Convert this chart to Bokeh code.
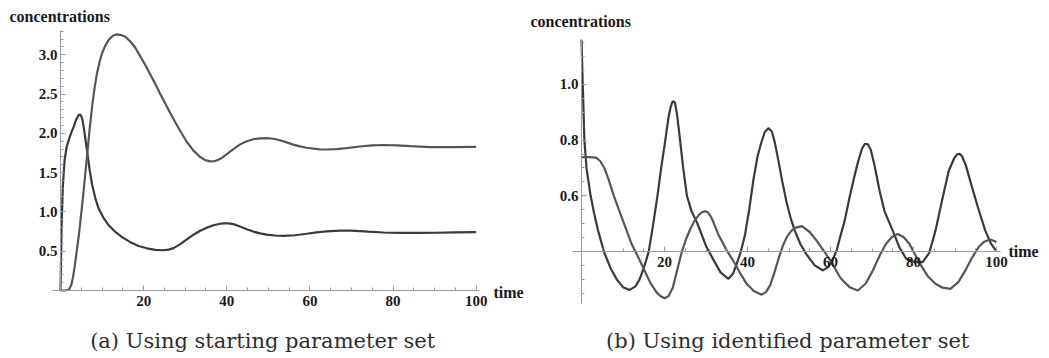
from bokeh.plotting import figure
from bokeh.models import Range1d, FixedTicker, PrintfTickFormatter, Label
from bokeh.layouts import row
from bokeh.embed import file_html
from bokeh.resources import INLINE

# ---------------- data: panel (a) starting parameter set ----------------
A_T1 = [0, 0.25, 0.56, 1, 1.5, 2, 2.6, 3.2, 3.8, 4.4,
        4.7, 5.0, 5.3, 5.8, 6.4, 7, 7.6, 8.4, 9.2, 10.4,
        11.6, 13.2, 14.8, 16.8, 18.8, 20.8, 22.8, 24.5, 26, 27.2,
        28.8, 30.4, 32, 33.6, 35.2, 36.8, 38.4, 39.4, 40.4, 41.6,
        43.2, 44.8, 46.4, 48, 49.6, 51.6, 53.6, 56.4, 59.2, 61.6,
        64, 67.2, 69.8, 72, 74, 77.8, 81.8, 85.8, 90, 95,
        100]
A_X = [0, 0.8, 1.32, 1.67, 1.83, 1.92, 2.01, 2.09, 2.18, 2.235,
       2.24, 2.22, 2.17, 2.0, 1.77, 1.54, 1.35, 1.17, 1.04, 0.92,
       0.83, 0.745, 0.68, 0.615, 0.567, 0.537, 0.518, 0.512, 0.52, 0.54,
       0.59, 0.65, 0.71, 0.76, 0.80, 0.83, 0.85, 0.855, 0.855, 0.845,
       0.815, 0.78, 0.75, 0.727, 0.712, 0.70, 0.695, 0.703, 0.722, 0.74,
       0.753, 0.762, 0.762, 0.757, 0.75, 0.738, 0.733, 0.733, 0.735, 0.739,
       0.742]
A_T2 = [0, 1, 2, 2.6, 3.0, 3.4, 4.4, 5.4, 6.4, 7.0,
        7.6, 8.2, 8.8, 9.4, 10, 10.8, 11.6, 12.5, 13.4, 14.4,
        15.6, 16.8, 18, 19.2, 20.4, 21.6, 22.8, 24, 25.6, 27.2,
        28.8, 30.4, 32, 33.6, 34.8, 36, 37, 38, 39, 40,
        41.6, 43.2, 44.8, 46.4, 48, 49.6, 51.2, 52.8, 54.4, 56,
        57.6, 59.2, 60.8, 62.4, 64, 66.4, 68.8, 72, 75, 77.8,
        81, 84.2, 89, 94, 100]
A_Y = [0, 0, 0.01, 0.07, 0.17, 0.3, 0.7, 1.18, 1.72, 2.05,
       2.34, 2.58, 2.77, 2.91, 3.02, 3.12, 3.19, 3.24, 3.26, 3.255,
       3.23, 3.17, 3.09, 2.98, 2.87, 2.75, 2.63, 2.5, 2.34, 2.18,
       2.03, 1.89, 1.78, 1.70, 1.66, 1.643, 1.645, 1.665, 1.695, 1.735,
       1.80, 1.86, 1.90, 1.925, 1.937, 1.94, 1.932, 1.912, 1.885, 1.857,
       1.835, 1.817, 1.805, 1.797, 1.795, 1.80, 1.813, 1.833, 1.847, 1.852,
       1.848, 1.838, 1.826, 1.824, 1.828]

# ---------------- data: panel (b) identified parameter set ----------------
B_T1 = [0, 0.3, 0.7, 1.2, 2.2, 3, 4, 5.4, 7, 8.5,
        10, 11.6, 13, 14, 15, 16.2, 17.2, 18.3, 19.2, 20.2,
        21, 21.5, 22, 22.5, 23, 23.6, 24.5, 25.4, 26.5, 27.8,
        28.6, 30, 31.8, 33.5, 35.4, 36.5, 37.4, 38.4, 39.4, 40.4,
        41.4, 42.4, 43.4, 44.2, 45.1, 45.9, 46.6, 47.4, 48.4, 49.4,
        50.4, 51.4, 52.8, 54.2, 56.2, 58.2, 59.5, 60.5, 61.5, 62.2,
        63.4, 64.6, 65.6, 66.6, 67.6, 68.3, 69, 69.7, 70.6, 71.8,
        73, 75, 76.6, 78.2, 80.2, 82.2, 83.8, 85.3, 86.9, 88.5,
        89.8, 90.5, 91.1, 91.7, 92.6, 94.1, 95.7, 97.3, 98.6, 99.8]
B_X = [1.16, 1.0, 0.8, 0.7, 0.6, 0.54, 0.475, 0.4, 0.34, 0.3,
       0.272, 0.262, 0.275, 0.30, 0.34, 0.4, 0.49, 0.6, 0.7, 0.8,
       0.885, 0.92, 0.94, 0.935, 0.895, 0.82, 0.7, 0.6, 0.545, 0.505,
       0.475, 0.42, 0.37, 0.325, 0.302, 0.32, 0.356, 0.4, 0.46, 0.55,
       0.655, 0.74, 0.795, 0.83, 0.843, 0.83, 0.79, 0.73, 0.65, 0.578,
       0.52, 0.475, 0.425, 0.39, 0.35, 0.332, 0.345, 0.37, 0.405, 0.445,
       0.51, 0.595, 0.66, 0.72, 0.77, 0.787, 0.785, 0.765, 0.71, 0.62,
       0.545, 0.475, 0.415, 0.375, 0.362, 0.362, 0.395, 0.475, 0.585, 0.69,
       0.735, 0.749, 0.751, 0.742, 0.71, 0.631, 0.55, 0.475, 0.43, 0.404]
B_T2 = [0, 2, 3.5, 4.5, 5.5, 6.5, 7.8, 9, 10.5, 12,
        13, 15, 16.5, 18, 19, 20, 21, 22, 23, 24.2,
        25.2, 26.2, 27.2, 28.2, 29, 29.8, 30.5, 31.2, 31.8, 33,
        35, 37, 38.5, 39.8, 41.5, 43.4, 44.5, 45.5, 46.5, 47.5,
        48.5, 49.4, 50.5, 51.4, 53.1, 55, 56.6, 58.5, 60.2, 62.2,
        63, 64.6, 66.6, 68.5, 70.2, 72, 73.4, 74.8, 76.2, 77.6,
        79, 81.4, 83.5, 85.3, 87, 88.9, 90.8, 92.5, 94, 95.7,
        97, 98.5, 100]
B_Y = [0.739, 0.739, 0.737, 0.725, 0.70, 0.66, 0.6, 0.55, 0.49, 0.43,
       0.4, 0.338, 0.29, 0.255, 0.24, 0.232, 0.24, 0.27, 0.33, 0.4,
       0.445, 0.48, 0.51, 0.53, 0.541, 0.545, 0.54, 0.525, 0.505, 0.46,
       0.404, 0.356, 0.315, 0.284, 0.258, 0.245, 0.255, 0.28, 0.325, 0.375,
       0.42, 0.45, 0.473, 0.485, 0.491, 0.47, 0.44, 0.4, 0.362, 0.31,
       0.295, 0.272, 0.26, 0.285, 0.332, 0.39, 0.428, 0.452, 0.463, 0.452,
       0.428, 0.36, 0.31, 0.284, 0.27, 0.266, 0.29, 0.332, 0.375, 0.416,
       0.435, 0.443, 0.434]

# ticks
X_MAJOR = [20, 40, 60, 80, 100]
X_MINOR = [5, 10, 15, 25, 30, 35, 45, 50, 55, 65, 70, 75, 85, 90, 95]
A_Y_MAJOR = [0.5, 1.0, 1.5, 2.0, 2.5, 3.0]
A_Y_MINOR = [0.1, 0.2, 0.3, 0.4, 0.6, 0.7, 0.8, 0.9, 1.1, 1.2, 1.3, 1.4,
             1.6, 1.7, 1.8, 1.9, 2.1, 2.2, 2.3, 2.4, 2.6, 2.7, 2.8, 2.9,
             3.1, 3.2, 3.3]
B_Y_MAJOR = [0.6, 0.8, 1.0]
B_Y_MINOR = [0.25, 0.3, 0.35, 0.45, 0.5, 0.55, 0.65, 0.7, 0.75,
             0.85, 0.9, 0.95, 1.05, 1.1, 1.15]

CAPTION_A = "(a)  Using starting parameter set"
CAPTION_B = "(b)  Using identified parameter set"

H = 358
AXIS_COLOR = "#9a9a9a"
DARK = "#3a3a3a"
MID = "#565656"


def make_panel(width, x0px, pxu, y0px, y0val, pyu, xbounds, ybounds,
               ymajor, yminor, xcross, x1, y1, x2, y2, caption,
               conc_px, time_px, cap_px):
    def dx(px):
        return (px - x0px) / pxu

    def dy(py):
        return y0val + (y0px - py) / pyu

    p = figure(width=width, height=H, output_backend="svg",
               toolbar_location=None, min_border=0,
               x_range=Range1d(dx(0), dx(width)),
               y_range=Range1d(dy(H), dy(0)))
    p.outline_line_color = None
    p.grid.visible = False
    p.background_fill_color = "white"
    p.border_fill_color = "white"

    xa = p.xaxis[0]
    xa.fixed_location = xcross
    xa.bounds = xbounds
    xa.ticker = FixedTicker(ticks=X_MAJOR, minor_ticks=X_MINOR)
    xa.formatter = PrintfTickFormatter(format="%d")
    ya = p.yaxis[0]
    ya.fixed_location = 0
    ya.bounds = ybounds
    ya.ticker = FixedTicker(ticks=ymajor, minor_ticks=yminor)
    ya.formatter = PrintfTickFormatter(format="%.1f")
    for ax in (xa, ya):
        ax.axis_line_color = AXIS_COLOR
        ax.axis_line_width = 1
        ax.major_tick_line_color = AXIS_COLOR
        ax.minor_tick_line_color = AXIS_COLOR
        ax.major_tick_in = 5
        ax.major_tick_out = 0
        ax.minor_tick_in = 3
        ax.minor_tick_out = 0
        ax.major_label_text_font = "Liberation Serif"
        ax.major_label_text_font_style = "bold"
        ax.major_label_text_font_size = "15px"
        ax.major_label_text_color = "#1a1a1a"
    xa.major_label_standoff = 5
    ya.major_label_standoff = 3

    p.line(x1, y1, line_color=DARK, line_width=2.2)
    p.line(x2, y2, line_color=MID, line_width=2.2)

    p.add_layout(Label(x=dx(conc_px[0]), y=dy(conc_px[1]), text="concentrations",
                       text_font="Liberation Serif", text_font_style="bold",
                       text_font_size="16px", text_color="#1a1a1a",
                       text_align="left", text_baseline="middle"))
    p.add_layout(Label(x=dx(time_px[0]), y=dy(time_px[1]), text="time",
                       text_font="Liberation Serif", text_font_style="bold",
                       text_font_size="16px", text_color="#1a1a1a",
                       text_align="left", text_baseline="middle"))
    p.add_layout(Label(x=dx(cap_px[0]), y=dy(cap_px[1]), text=caption,
                       text_font="DejaVu Serif", text_font_size="21px",
                       text_color="#2e2e2e",
                       text_align="center", text_baseline="middle"))
    return p


pa = make_panel(525, 60, 4.157, 290, 0.0, 78.56,
                (-1.9, 100.8), (0, 3.31), A_Y_MAJOR, A_Y_MINOR, 0,
                A_T1, A_X, A_T2, A_Y, CAPTION_A,
                (9, 15.5), (493, 292), (265.5, 340))
pb = make_panel(524, 56, 4.15, 251, 0.4, 278.5,
                (-2.2, 100.9), (0.213, 1.16), B_Y_MAJOR, B_Y_MINOR, 0.4,
                B_T1, B_X, B_T2, B_Y, CAPTION_B,
                (5, 21), (483, 251), (265.5, 340))

layout = row(pa, pb)
open("out.html", "w").write(file_html(layout, INLINE))
